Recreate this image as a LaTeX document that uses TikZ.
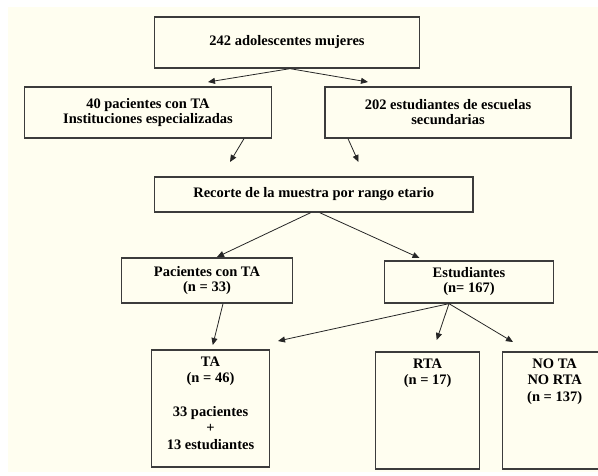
\documentclass[tikz,border=0pt]{standalone}
\usepackage{fontspec}
\setmainfont{Liberation Serif}
\usetikzlibrary{arrows.meta}
\definecolor{bgcream}{RGB}{255,254,240}
\definecolor{boxline}{RGB}{60,60,60}
\tikzset{
  box/.style={draw=boxline, line width=1.3pt, fill=bgcream, inner sep=0pt,
    font=\bfseries\fontsize{14.5}{15}\selectfont, align=center},
  arr/.style={draw=black!85, line width=0.8pt, -{Triangle[length=7pt,width=6pt]}},
  toplabel/.style={anchor=north, font=\bfseries\fontsize{14.5}{16.5}\selectfont, align=center, inner sep=0pt}
}
\begin{document}
\begin{tikzpicture}[x=1pt,y=-1pt]
\useasboundingbox (0,0) rectangle (598,475);
\fill[white] (0,0) rectangle (598,475);
\fill[bgcream] (8,7) rectangle (598,472);

\node[box, minimum width=265pt, minimum height=51pt] (top) at (287,42.5) {242 adolescentes mujeres};
\node[box, minimum width=247pt, minimum height=51pt] (b1) at (148,112.5) {40 pacientes con TA\\Instituciones especializadas};
\node[box, minimum width=246pt, minimum height=51pt] (b2) at (448,112.5) {202 estudiantes de escuelas\\secundarias};
\node[box, minimum width=318.5pt, minimum height=35pt] (rec) at (313.7,194.5) {Recorte de la muestra por rango etario};
\node[box, minimum width=170.5pt, minimum height=45pt] (pac) at (207,280.5) {Pacientes con TA\\(n = 33)};
\node[box, minimum width=169.4pt, minimum height=42pt] (est) at (469,282) {Estudiantes\\(n= 167)};
\node[box, minimum width=117.5pt, minimum height=117pt] (ta) at (210.5,408.5) {};
\node[box, minimum width=104pt, minimum height=117pt] (rta) at (427.7,410.5) {};
\node[box, minimum width=104pt, minimum height=117pt] (nota) at (554.7,410.5) {};

\node[toplabel] (tatext) at ([yshift=-7pt]ta.north) {TA\\(n = 46)\\[17pt]33 pacientes\\+\\13 estudiantes};
\node[toplabel] (rtatext) at ([yshift=-7pt]rta.north) {RTA\\(n = 17)};
\node[toplabel] (notatext) at ([yshift=-7pt]nota.north) {NO TA\\NO RTA\\(n = 137)};

\coordinate (e1) at (208,82);
\coordinate (e2) at (368,82);
\coordinate (e3) at (230,162);
\coordinate (e4) at (358.5,162);
\coordinate (e5) at (217,257);
\coordinate (e6) at (419.5,258);
\coordinate (e7) at (212.8,345);
\coordinate (e8) at (278,341);
\coordinate (e9) at (436.7,340);
\coordinate (e10) at (513,342);

\draw[arr] ([xshift=3pt]top.south) -- (e1);
\draw[arr] ([xshift=3pt]top.south) -- (e2);
\draw[arr] ([xshift=96pt]b1.south) -- (e3);
\draw[arr] ([xshift=-100pt]b2.south) -- (e4);
\draw[arr] ([xshift=-3pt]rec.south) -- (e5);
\draw[arr] ([xshift=6pt]rec.south) -- (e6);
\draw[arr] ([xshift=16pt]pac.south) -- (e7);
\draw[arr] ([xshift=-20pt]est.south) -- (e8);
\draw[arr] ([xshift=-20pt]est.south) -- (e9);
\draw[arr] ([xshift=-20pt]est.south) -- (e10);
\end{tikzpicture}
\end{document}
